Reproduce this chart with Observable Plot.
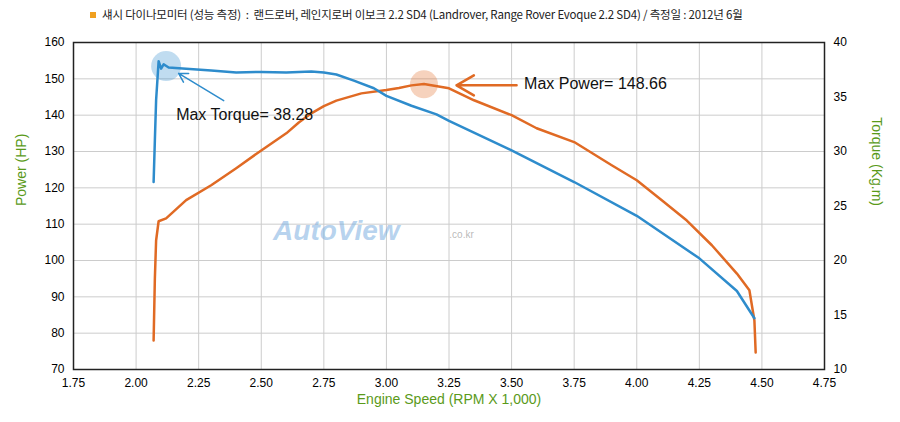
<!DOCTYPE html>
<html><head><meta charset="utf-8">
<script src="https://cdn.jsdelivr.net/npm/d3@7"></script>
<script src="https://cdn.jsdelivr.net/npm/@observablehq/plot@0.6"></script>
<style>
body{margin:0;background:#fff;font-family:"Noto Sans CJK KR",Arial,sans-serif}
#t{height:28px;box-sizing:border-box;padding:6px 0 0 90px;font-size:11.5px;color:#222;letter-spacing:-0.2px}
#t span{display:inline-block;width:6px;height:6px;background:#f0a020;margin-right:6px;vertical-align:1px}
</style></head><body>
<div id="t"><span></span>섀시 다이나모미터 (성능 측정) &nbsp;: &nbsp;랜드로버, 레인지로버 이보크 2.2 SD4 (Landrover, Range Rover Evoque 2.2 SD4) / 측정일 : 2012년 6월</div>
<div id="c"></div>
<script>
const powerRpm = [2.07,2.075,2.08,2.09,2.12,2.2,2.3,2.4,2.5,2.6,2.65,2.7,2.75,2.8,2.9,3.0,3.05,3.1,3.15,3.25,3.35,3.5,3.6,3.75,3.9,4.0,4.1,4.2,4.3,4.4,4.45,4.47,4.475];
const powerHp  = [78,95,105.5,110.8,111.6,116.6,120.7,125.4,130.3,135,138,140.5,142.5,144,146,146.9,147.5,148.2,148.6,147.4,144.1,140,136.4,132.6,126.2,122.1,116.6,111,104.2,96.4,91.8,83.5,74.7];
const torqueRpm = [2.07,2.075,2.08,2.09,2.10,2.11,2.13,2.2,2.3,2.4,2.5,2.6,2.7,2.75,2.8,2.87,2.95,3.0,3.1,3.2,3.25,3.5,3.75,4.0,4.25,4.4,4.47];
const torqueKgm = [27.2,31,34.7,38.28,37.6,38.0,37.7,37.6,37.43,37.25,37.3,37.25,37.35,37.25,37.06,36.5,35.8,35.1,34.2,33.4,32.8,30.1,27.2,24.1,20.2,17.2,14.7];
const xTicks = d3.range(1.75,4.76,0.25);
const toHp = t => 70 + (t-10)*3;
const P = powerRpm.map((r,i)=>({r,v:powerHp[i]}));
const T = torqueRpm.map((r,i)=>({r,v:toHp(torqueKgm[i])}));
const green="#5a9a1a", blue="#2e8ccc", orange="#e06a24";
const chart = Plot.plot({
  width:900,height:394,marginTop:14,marginBottom:53,marginLeft:73,marginRight:76,
  style:{fontFamily:"Arial, sans-serif",fontSize:"12px"},
  x:{domain:[1.75,4.75],ticks:xTicks,tickFormat:d3.format(".2f"),label:null},
  y:{domain:[70,160],ticks:d3.range(70,161,10),label:null},
  marks:[
    Plot.gridX(xTicks,{stroke:"#ccc",strokeOpacity:1}),
    Plot.gridY(d3.range(70,161,10),{stroke:"#ccc",strokeOpacity:1}),
    Plot.frame({stroke:"#222",strokeWidth:1.5}),
    Plot.axisX({ticks:xTicks,tickFormat:d3.format(".2f"),tickSize:0,fontSize:12,label:null}),
    Plot.axisY({tickSize:0,fontSize:12,label:null}),
    Plot.axisY(d3.range(10,41,5).map(toHp),{anchor:"right",tickSize:0,fontSize:12,tickFormat:d=>(d-70)/3+10,label:null}),
    Plot.text(["AutoView"],{x:2.8,y:108,fontSize:28,fontWeight:"bold",fontStyle:"italic",fill:"#7aaee0",fillOpacity:0.55}),
    Plot.text([".co.kr"],{x:3.3,y:107,fontSize:10,fill:"#999",fillOpacity:0.7}),
    Plot.dot([{r:2.12,v:153.5}],{x:"r",y:"v",r:15,fill:blue,fillOpacity:0.3}),
    Plot.dot([{r:3.15,v:148.5}],{x:"r",y:"v",r:14,fill:orange,fillOpacity:0.3}),
    Plot.line(P,{x:"r",y:"v",stroke:orange,strokeWidth:2.5}),
    Plot.line(T,{x:"r",y:"v",stroke:blue,strokeWidth:2.5}),
    Plot.arrow([{x1:2.35,y1:144,x2:2.17,y2:151.5}],{x1:"x1",y1:"y1",x2:"x2",y2:"y2",stroke:blue,strokeWidth:1.5,headLength:10}),
    Plot.arrow([{x1:3.52,y1:148.2,x2:3.28,y2:148.2}],{x1:"x1",y1:"y1",x2:"x2",y2:"y2",stroke:orange,strokeWidth:2.5,headLength:14}),
    Plot.text(["Max Torque= 38.28"],{x:2.16,y:140,textAnchor:"start",fontSize:16,fill:"#111"}),
    Plot.text(["Max Power= 148.66"],{x:3.55,y:148.6,textAnchor:"start",fontSize:16,fill:"#111"}),
    Plot.text(["Engine Speed (RPM X 1,000)"],{frameAnchor:"bottom",dy:34,fontSize:14,fill:green}),
    Plot.text(["Power (HP)"],{frameAnchor:"left",dx:-52,rotate:-90,fontSize:14,fill:green}),
    Plot.text(["Torque (Kg.m)"],{frameAnchor:"right",dx:52,rotate:90,fontSize:14,fill:green})
  ]
});
document.getElementById("c").appendChild(chart);
</script></body></html>
